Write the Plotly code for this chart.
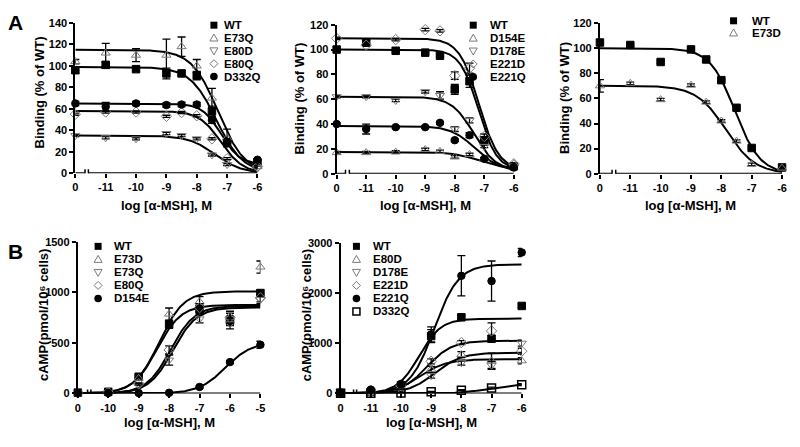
import numpy as np
import plotly.graph_objects as go

FONT = "Liberation Sans"
GRAY = "#7a7a7a"

# ---------------- Panel A (binding), left ----------------
# x position -12 stands for the "0" (no alpha-MSH) point, drawn left of the axis break
a_tickvals = [-12, -11, -10, -9, -8, -7, -6]
a_ticktext = ["0", "-11", "-10", "-9", "-8", "-7", "-6"]
a_x = [-12, -11, -10, -9, -8.5, -8, -7.5, -7, -6]

a1_names = ["WT", "E73Q", "E80D", "E80Q", "D332Q"]
a1_wt = [96, 101, 97, 93, 93, 91, 57.5, 28.5, 10]
a1_e73q = [104, 112, 110, 110, 118, 100, 70, 33, 6]
a1_e80d = [35, 33, 32, 37, 35, 32, 17, 8, 5]
a1_e80q = [55, 57, 57, 53, 56.5, 53.5, 32, 13.5, 6]
a1_d332q = [65, 62, 65, 63.5, 64, 64, 49.5, 28, 12.5]
a1_err_wt = [3, 3, 2, 5, 2, 4, 5, 4, 1]
a1_err_e73q = [2, 9, 6, 15, 9, 6, 9, 8, 1]
a1_err_e80d = [1, 1, 1, 1, 1, 1, 1, 1, 1]
a1_err_e80q = [1, 1, 1, 1, 1, 1, 1, 1, 1]
a1_err_d332q = [2, 4, 2, 2, 2, 2, 3, 3, 1]
a1_fit_top = [99, 115, 35, 58, 65]
a1_fit_bottom = [0, 0, 0, 0, 8]
a1_fit_logc = [-7.35, -7.3, -7.4, -7.2, -7.2]
a1_fit_hill = [1.0, 1.0, 1.0, 1.2, 1.4]

# ---------------- Panel A, middle ----------------
a2_names = ["WT", "D154E", "D178E", "E221D", "E221Q"]
a2_wt = [100, 105.5, 99, 97.5, 95, 68, 74.5, 27, 6]
a2_d154e = [17, 17, 17.5, 19.5, 18, 13.5, 15.5, 12, 8]
a2_d178e = [62, 62, 59, 66, 63, 36, 43, 22, 6]
a2_e221d = [109, 103.5, 108, 116, 115, 79, 85, 30, 8]
a2_e221q = [40, 36, 37.5, 37.5, 41, 27, 31, 12, 5]
a2_err_wt = [1, 2, 1, 1, 1, 4, 5, 2, 1]
a2_err_d154e = [1, 1, 1, 1, 1, 1, 1, 1, 1]
a2_err_d178e = [1, 1, 1, 1, 3, 2, 2, 1, 1]
a2_err_e221d = [1, 1, 1, 1, 1, 3, 4, 2, 1]
a2_err_e221q = [1, 4, 1, 1, 1, 1, 2, 1, 1]
a2_fit_top = [100, 17.5, 62, 109, 38.5]
a2_fit_bottom = [3, 4, 2, 3, 2]
a2_fit_logc = [-7.2, -7.2, -7.35, -7.18, -7.3]
a2_fit_hill = [1.4, 1.0, 1.15, 1.3, 1.05]

# ---------------- Panel A, right ----------------
a3_names = ["WT", "E73D"]
a3_wt = [104.5, 102.5, 89, 99, 91, 74.5, 52.5, 20.5, 5]
a3_e73d = [70, 72, 59, 70.5, 57, 42, 26, 7.5, 4.5]
a3_err_wt = [1, 1, 1, 1, 1, 1, 1, 1, 1]
a3_err_e73d = [5, 1, 1, 1, 1, 1, 1, 1, 1]
a3_fit_top = [100, 70]
a3_fit_bottom = [0, 0]
a3_fit_logc = [-7.55, -7.85]
a3_fit_hill = [1.05, 0.9]

# ---------------- Panel B (cAMP), left ----------------
b1_tickvals = [-11, -10, -9, -8, -7, -6, -5]
b1_ticktext = ["0", "-10", "-9", "-8", "-7", "-6", "-5"]
b1_x = [-11, -10, -9, -8, -7, -6, -5]
b1_names = ["WT", "E73D", "E73Q", "E80Q", "D154E"]
b1_wt = [8, 16, 165, 683, 833, 720, 993]
b1_e73d = [5, 12, 150, 785, 907, 753, 1250]
b1_e73q = [5, 8, 90, 330, 737, 689, 929]
b1_e80q = [5, 10, 95, 430, 849, 753, 945]
b1_d154e = [5, 4, 4, 6, 64, 310, 481]
b1_err_wt = [10, 8, 15, 40, 40, 50, 30]
b1_err_e73d = [5, 5, 10, 60, 50, 40, 60]
b1_err_e73q = [5, 5, 10, 50, 40, 50, 40]
b1_err_e80q = [5, 5, 10, 40, 40, 60, 40]
b1_err_d154e = [5, 5, 5, 5, 10, 15, 35]
b1_fit_top = [1010, 875, 850, 865, 510]
b1_fit_bottom = [0, 0, 0, 0, 0]
b1_fit_logc = [-8.33, -8.4, -7.88, -7.95, -6.15]
b1_fit_hill = [1.08, 1.1, 1.1, 1.1, 1.0]

# ---------------- Panel B, right ----------------
b2_tickvals = [-12, -11, -10, -9, -8, -7, -6]
b2_ticktext = ["0", "-11", "-10", "-9", "-8", "-7", "-6"]
b2_x = [-12, -11, -10, -9, -8, -7, -6]
b2_names = ["WT", "E80D", "D178E", "E221D", "E221Q", "D332Q"]
b2_wt = [10, 32, 160, 1142, 1516, 1090, 1742]
b2_e80d = [5, 20, 90, 480, 774, 650, 650]
b2_d178e = [5, 15, 60, 355, 612, 560, 1000]
b2_e221d = [10, 25, 150, 640, 1012, 1245, 840]
b2_e221q = [15, 77, 190, 1174, 2342, 2237, 2806]
b2_d332q = [5, 5, 10, 32, 64, 109, 174]
b2_err_wt = [10, 10, 30, 130, 50, 60, 40]
b2_err_e80d = [5, 10, 20, 60, 60, 150, 60]
b2_err_d178e = [5, 5, 20, 50, 50, 80, 60]
b2_err_e221d = [5, 10, 20, 50, 40, 160, 60]
b2_err_e221q = [10, 20, 30, 150, 400, 400, 80]
b2_err_d332q = [5, 5, 5, 10, 10, 15, 20]
b2_fit_top = [1490, 680, 810, 1050, 2570, 200]
b2_fit_bottom = [0, 0, 0, 0, 0, 0]
b2_fit_logc = [-9.4, -9.37, -8.88, -9.15, -8.9, -7.0]
b2_fit_hill = [1.2, 1.0, 1.0, 1.05, 1.08, 0.9]

SYMBOLS = ["square", "triangle-up-open", "triangle-down-open", "diamond-open", "circle", "square-open"]
SYM_COLORS = ["black", GRAY, GRAY, GRAY, "black", "black"]


def inhibition(x, top, bottom, logc, hill):
    return bottom + (top - bottom) / (1 + 10 ** (hill * (x - logc)))


def stimulation(x, top, bottom, logc, hill):
    return bottom + (top - bottom) / (1 + 10 ** (hill * (logc - x)))


# The page body keeps its default 8px margin, so the figure is drawn 8px in from
# the window edges; layout positions below are given in window pixels.
PAGE_MARGIN = 8
W, H = 800 - 2 * PAGE_MARGIN, 447 - 2 * PAGE_MARGIN


def px(xp):
    return (xp - PAGE_MARGIN) / W


def py(yp):
    return 1 - (yp - PAGE_MARGIN) / H


def legend_key(kind, color, ax, ay):
    """A legend key drawn as a small pixel-sized shape anchored at (ax, ay) in paper units."""
    base = dict(xref="paper", yref="paper", xsizemode="pixel", ysizemode="pixel",
                xanchor=ax, yanchor=ay, layer="above")
    filled = not kind.endswith("open")
    line = dict(color=color, width=1 if not filled else 0)
    fill = color if filled else "rgba(0,0,0,0)"
    if kind == "square":
        return dict(type="rect", x0=-3.5, x1=3.5, y0=-3.5, y1=3.5, fillcolor=fill,
                    line=dict(color=color, width=0), **base)
    if kind == "square-open":
        return dict(type="rect", x0=-3.5, x1=3.5, y0=-3.5, y1=3.5, fillcolor=fill,
                    line=dict(color=color, width=1.5), **base)
    if kind == "circle":
        return dict(type="circle", x0=-3.8, x1=3.8, y0=-3.8, y1=3.8, fillcolor=fill,
                    line=dict(color=color, width=0), **base)
    paths = {
        "triangle-up-open": "M -4,-3 L 4,-3 L 0,4 Z",
        "triangle-down-open": "M -4,3 L 4,3 L 0,-4 Z",
        "diamond-open": "M 0,4 L 4,0 L 0,-4 L -4,0 Z",
    }
    return dict(type="path", path=paths[kind], fillcolor=fill, line=line, **base)


CAMP_TITLE = "cAMP(pmol/10\u2076 cells)"

panels = [
    dict(n=1, x=a_x, names=a1_names, ys=[a1_wt, a1_e73q, a1_e80d, a1_e80q, a1_d332q],
         errs=[a1_err_wt, a1_err_e73q, a1_err_e80d, a1_err_e80q, a1_err_d332q],
         fit=(a1_fit_top, a1_fit_bottom, a1_fit_logc, a1_fit_hill), model=inhibition,
         xdom=(73, 257), ydom=(171.7, 17.3), xr=[-12, -6], yr=[0, 140], ytv=list(range(0, 141, 20)),
         xtv=a_tickvals, xtt=a_ticktext, brk=(-11.68, -11.57),
         leg=(213, 221, 19.5, 13.2), ytitle="Binding (% of WT)", ytpos=(37, 89), xtpos=(165, 205)),
    dict(n=2, x=a_x, names=a2_names, ys=[a2_wt, a2_d154e, a2_d178e, a2_e221d, a2_e221q],
         errs=[a2_err_wt, a2_err_d154e, a2_err_d178e, a2_err_e221d, a2_err_e221q],
         fit=(a2_fit_top, a2_fit_bottom, a2_fit_logc, a2_fit_hill), model=inhibition,
         xdom=(337, 516), ydom=(172.3, 19), xr=[-12, -6], yr=[0, 120], ytv=list(range(0, 121, 20)),
         xtv=a_tickvals, xtt=a_ticktext, brk=(-11.7, -11.57),
         leg=(475, 490, 19.5, 13.3), ytitle="Binding (% of WT)", ytpos=(300, 95), xtpos=(427, 205)),
    dict(n=3, x=a_x, names=a3_names, ys=[a3_wt, a3_e73d],
         errs=[a3_err_wt, a3_err_e73d],
         fit=(a3_fit_top, a3_fit_bottom, a3_fit_logc, a3_fit_hill), model=inhibition,
         xdom=(603, 787), ydom=(172.3, 17.3), xr=[-12, -6], yr=[0, 120], ytv=list(range(0, 121, 20)),
         xtv=a_tickvals, xtt=a_ticktext, brk=(-11.6, -11.48),
         leg=(738, 755, 15, 12.5), ytitle="Binding (% of WT)", ytpos=(567, 94), xtpos=(695, 205)),
    dict(n=4, x=b1_x, names=b1_names, ys=[b1_wt, b1_e73d, b1_e73q, b1_e80q, b1_d154e],
         errs=[b1_err_wt, b1_err_e73d, b1_err_e73q, b1_err_e80q, b1_err_d154e],
         fit=(b1_fit_top, b1_fit_bottom, b1_fit_logc, b1_fit_hill), model=stimulation,
         xdom=(75.5, 260), ydom=(398.3, 242.3), xr=[-11, -5], yr=[0, 1500], ytv=[0, 500, 1000, 1500],
         xtv=b1_tickvals, xtt=b1_ticktext, brk=(-10.68, -10.57),
         leg=(96, 110, 247, 13.4), ytitle=CAMP_TITLE, ytpos=(41, 318), xtpos=(168, 428)),
    dict(n=5, x=b2_x, names=b2_names, ys=[b2_wt, b2_e80d, b2_d178e, b2_e221d, b2_e221q, b2_d332q],
         errs=[b2_err_wt, b2_err_e80d, b2_err_d178e, b2_err_e221d, b2_err_e221q, b2_err_d332q],
         fit=(b2_fit_top, b2_fit_bottom, b2_fit_logc, b2_fit_hill), model=stimulation,
         xdom=(341, 524), ydom=(398.3, 243.3), xr=[-12, -6], yr=[0, 3000], ytv=[0, 1000, 2000, 3000],
         xtv=b2_tickvals, xtt=b2_ticktext, brk=(-11.57, -11.47),
         leg=(357, 372, 247, 13.4), ytitle=CAMP_TITLE, ytpos=(306, 318), xtpos=(433, 428)),
]

fig = go.Figure()
shapes = []
annotations = []
tickfont = dict(family=FONT, size=11, color="black", weight="bold")

for p in panels:
    n = p["n"]
    sfx = "" if n == 1 else str(n)
    xref, yref = "x" + sfx, "y" + sfx
    top, bottom, logc, hill = p["fit"]
    xs_fit = np.linspace(p["xr"][0], p["xr"][1], 240)
    # fitted curves
    for i in range(len(p["names"])):
        fig.add_trace(go.Scatter(
            x=xs_fit, y=p["model"](xs_fit, top[i], bottom[i], logc[i], hill[i]),
            mode="lines", line=dict(color="black", width=2), xaxis=xref, yaxis=yref,
            showlegend=False, hoverinfo="skip", cliponaxis=False))
    # data points
    for i, name in enumerate(p["names"]):
        filled = not SYMBOLS[i].endswith("open")
        fig.add_trace(go.Scatter(
            x=p["x"], y=p["ys"][i], mode="markers", name=name,
            marker=dict(symbol=SYMBOLS[i], size=7.5 if filled else 8, color=SYM_COLORS[i],
                        line=dict(width=1.5 if SYMBOLS[i] == "square-open" else 1, color=SYM_COLORS[i])),
            error_y=dict(type="data", array=p["errs"][i], visible=True, color="black",
                         thickness=1.3, width=4),
            xaxis=xref, yaxis=yref, showlegend=False, cliponaxis=False))
    # axes
    fig.update_layout(**{
        "xaxis" + sfx: dict(domain=[px(p["xdom"][0]), px(p["xdom"][1])], range=p["xr"], anchor=yref,
                            showline=False, showgrid=False, zeroline=False, ticks="outside", ticklen=4,
                            tickwidth=2, tickcolor="black", tickvals=p["xtv"], ticktext=p["xtt"],
                            tickfont=tickfont, fixedrange=True),
        "yaxis" + sfx: dict(domain=[py(p["ydom"][0]), py(p["ydom"][1])], range=p["yr"], anchor=xref,
                            showline=True, linewidth=2, linecolor="black", showgrid=False, zeroline=False,
                            ticks="outside", ticklen=4, tickwidth=2, tickcolor="black", tickvals=p["ytv"],
                            tickfont=tickfont, fixedrange=True),
    })
    # x-axis line with break
    bl, br = p["brk"]
    shapes.append(dict(type="line", xref=xref, yref=yref, x0=p["xr"][0], x1=bl, y0=0, y1=0,
                       line=dict(color="black", width=2)))
    shapes.append(dict(type="line", xref=xref, yref=yref, x0=br, x1=p["xr"][1], y0=0, y1=0,
                       line=dict(color="black", width=2)))
    for xb in (bl, br):
        shapes.append(dict(type="line", xref=xref, yref=yref, x0=xb, x1=xb, ysizemode="pixel",
                           yanchor=0, y0=-4, y1=4, line=dict(color="black", width=1.5)))
    # legend (manual, compact, as in the reference)
    mx, tx, y0, dy = p["leg"]
    for i, name in enumerate(p["names"]):
        yy = y0 + i * dy
        shapes.append(legend_key(SYMBOLS[i], SYM_COLORS[i], px(mx), py(yy)))
        annotations.append(dict(xref="paper", yref="paper", x=px(tx), y=py(yy), text=name,
                                showarrow=False, xanchor="left", yanchor="middle",
                                font=dict(family=FONT, size=11.5, color="black", weight="bold")))
    # axis titles
    annotations.append(dict(xref="paper", yref="paper", x=px(p["ytpos"][0]), y=py(p["ytpos"][1]),
                            text=p["ytitle"], textangle=-90, showarrow=False,
                            xanchor="center", yanchor="middle",
                            font=dict(family=FONT, size=13, color="black", weight="bold")))
    annotations.append(dict(xref="paper", yref="paper", x=px(p["xtpos"][0]), y=py(p["xtpos"][1]),
                            text="log [α-MSH], M", showarrow=False, xanchor="center", yanchor="middle",
                            font=dict(family=FONT, size=13, color="black", weight="bold")))

# panel letters
for letter, (lx, ly) in (("A", (13, 17)), ("B", (13, 252))):
    annotations.append(dict(xref="paper", yref="paper", x=px(lx), y=py(ly), text=letter,
                            showarrow=False, xanchor="center", yanchor="middle",
                            font=dict(family=FONT, size=21, color="black", weight="bold")))

fig.update_layout(width=W, height=H, autosize=False, margin=dict(l=0, r=0, t=0, b=0),
                  paper_bgcolor="white", plot_bgcolor="white", showlegend=False,
                  shapes=shapes, annotations=annotations)

fig.write_html("out.html")
